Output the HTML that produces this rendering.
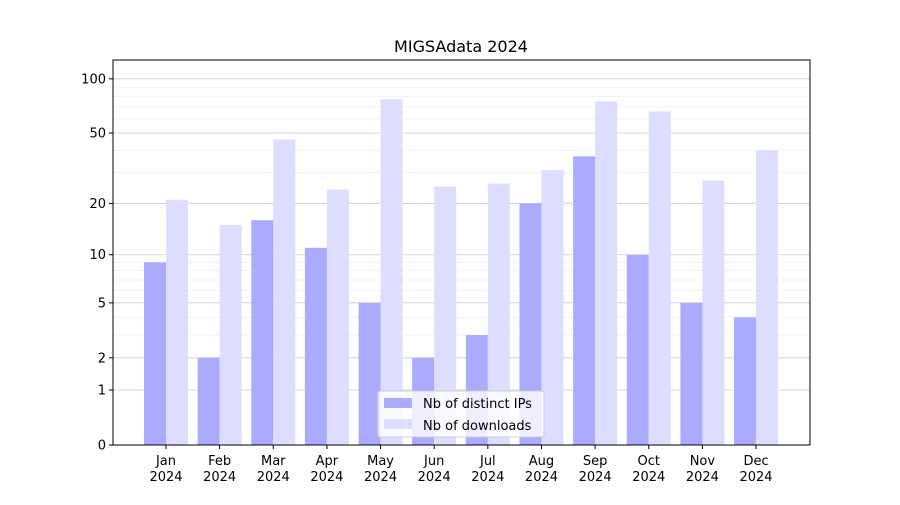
<!DOCTYPE html>
<html><head><meta charset="utf-8"><style>
body{margin:0;background:#fff;}
svg text{font-family:"DejaVu Sans","Liberation Sans",sans-serif;}
</style></head><body>
<svg id="chart" width="900" height="500" xmlns="http://www.w3.org/2000/svg">
<rect width="900" height="500" fill="#fff"/>
<text x="461" y="52" font-size="16" text-anchor="middle">MIGSAdata 2024</text>
<g id="grid"></g><g id="bars"></g><g id="axes"></g>
<g>
<rect x="378" y="391" width="166" height="46" fill="#fff" fill-opacity="0.8" stroke="#ccc" rx="2"/>
<rect x="384" y="398" width="28" height="10" fill="#aaaaff"/>
<text x="423" y="408" font-size="13">Nb of distinct IPs</text>
<rect x="384" y="419" width="28" height="10" fill="#ddddff"/>
<text x="423" y="430" font-size="13">Nb of downloads</text>
</g>
</svg>
<script>
const months=["Jan","Feb","Mar","Apr","May","Jun","Jul","Aug","Sep","Oct","Nov","Dec"];
const ips=[9,2,16,11,5,2,3,20,37,10,5,4];
const downloads=[21,15,46,24,77,25,26,31,75,66,27,40];
const yTicks=[0,1,2,5,10,20,50,100];
const yMinor=[3,4,6,7,8,9,30,40,60,70,80,90];
const NS="http://www.w3.org/2000/svg";
const L=113,R=810,T=60,B=445;
function y(v){return B-182.7*Math.log10(v+1);}
function xc(i){return 166+i*53.64;}
function mk(tag,attrs,parent){const e=document.createElementNS(NS,tag);for(const k in attrs)e.setAttribute(k,attrs[k]);document.getElementById(parent).appendChild(e);return e;}
yMinor.forEach(v=>{const l=mk('line',{x1:L,x2:R,y1:y(v),y2:y(v),stroke:'#eee','stroke-width':0.8},'grid');

});
yTicks.forEach(v=>{const l=mk('line',{x1:L,x2:R,y1:y(v),y2:y(v),stroke:'#ccc','stroke-width':0.8},'grid');


const t=mk('line',{x1:L-4,x2:L,y1:y(v),y2:y(v),stroke:'#000'},'axes');


const tx=mk('text',{x:L-7,y:y(v)+4.5,'font-size':13,'text-anchor':'end'},'axes');tx.textContent=v;

});
months.forEach((m,i)=>{const c=xc(i);
const b1=mk('rect',{x:c-22,y:y(ips[i]),width:22,height:B-y(ips[i]),fill:'#aaaaff'},'bars');


const b2=mk('rect',{x:c,y:y(downloads[i]),width:22,height:B-y(downloads[i]),fill:'#ddddff'},'bars');


const t=mk('line',{x1:c,x2:c,y1:B,y2:B+4,stroke:'#000'},'axes');


const tx=mk('text',{x:c,y:B+20,'font-size':13,'text-anchor':'middle'},'axes');tx.textContent=m;


const ty=mk('text',{x:c,y:B+36,'font-size':13,'text-anchor':'middle'},'axes');ty.textContent='2024';

});
const f=mk('rect',{x:L,y:T,width:R-L,height:B-T,fill:'none',stroke:'#000','stroke-width':1},'axes');


</script>
</body></html>
